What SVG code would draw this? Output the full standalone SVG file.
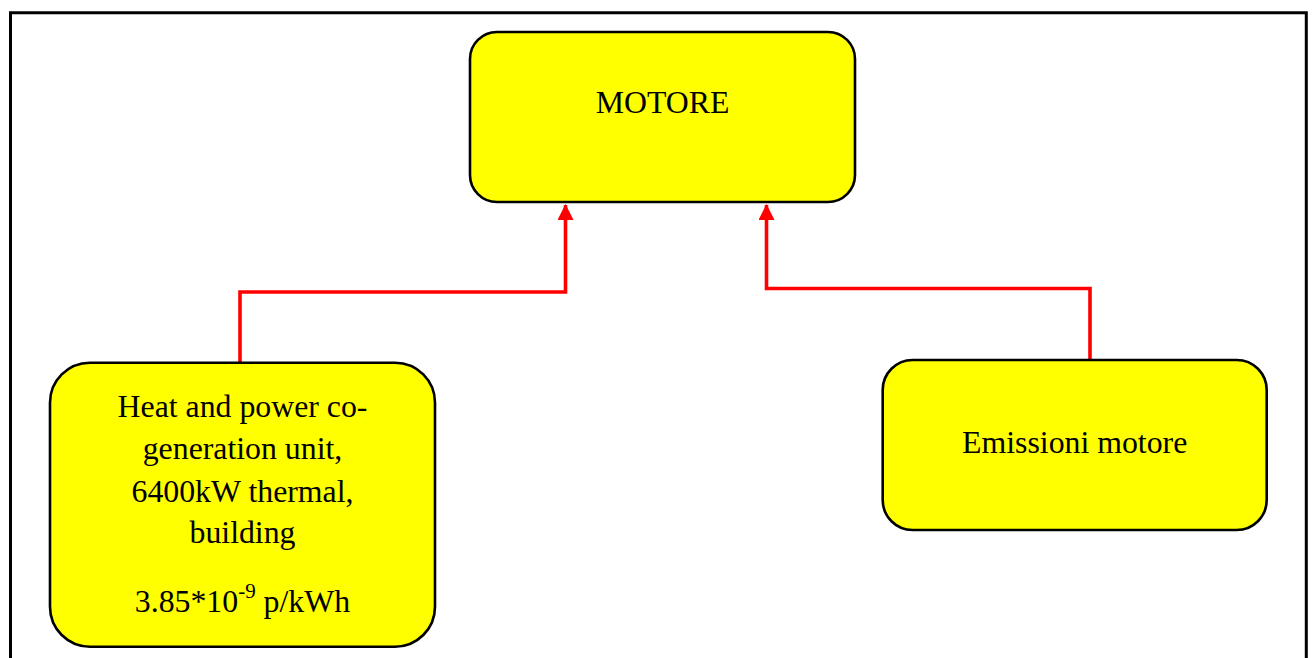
<svg xmlns="http://www.w3.org/2000/svg" width="1314" height="658" viewBox="0 0 1314 658">
  <defs>
    <style>
      .node { fill: #ffff00; stroke: #000000; stroke-width: 2.6; }
      .label { font-family: "Liberation Serif", "Times New Roman", serif; font-size: 31.8px; fill: #000000; text-anchor: middle; }
      .link { fill: none; stroke: #ff0000; stroke-width: 3.6; }
      .frame { fill: none; stroke: #000000; stroke-width: 3; }
    </style>
    <marker id="arrow" viewBox="0 0 16 16" refX="15" refY="8" markerWidth="16" markerHeight="16" markerUnits="userSpaceOnUse" orient="auto">
      <path d="M0,0 L16,8 L0,16 Z" fill="#ff0000"/>
    </marker>
  </defs>

  <rect width="1314" height="658" fill="#ffffff"/>

  <!-- page frame, open at the bottom edge -->
  <path class="frame" d="M10.5,670 V12.8 H1306.3 V670"/>

  <g id="connectors">
    <path class="link" d="M240,362 V292 H565.5 V205" marker-end="url(#arrow)"/>
    <path class="link" d="M1090,360 V288.5 H766.5 V205" marker-end="url(#arrow)"/>
  </g>

  <g id="node-motore">
    <rect class="node" x="470" y="32" width="385" height="170" rx="27" ry="27"/>
    <text class="label" x="662.5" y="112.7">MOTORE</text>
  </g>

  <g id="node-cogeneration">
    <rect class="node" x="50" y="362.7" width="385" height="284" rx="40" ry="40"/>
    <text class="label" x="242.5" y="416.7">Heat and power co-</text>
    <text class="label" x="242.5" y="459.3">generation unit,</text>
    <text class="label" x="242.5" y="501.7">6400kW thermal,</text>
    <text class="label" x="242.5" y="543">building</text>
    <text class="label" x="242.5" y="611.7">3.85*10<tspan font-size="21" dy="-14">-9</tspan><tspan dy="14"> p/kWh</tspan></text>
  </g>

  <g id="node-emissioni">
    <rect class="node" x="882.7" y="360" width="384" height="170" rx="30" ry="30"/>
    <text class="label" x="1074.7" y="452.7">Emissioni motore</text>
  </g>
</svg>
